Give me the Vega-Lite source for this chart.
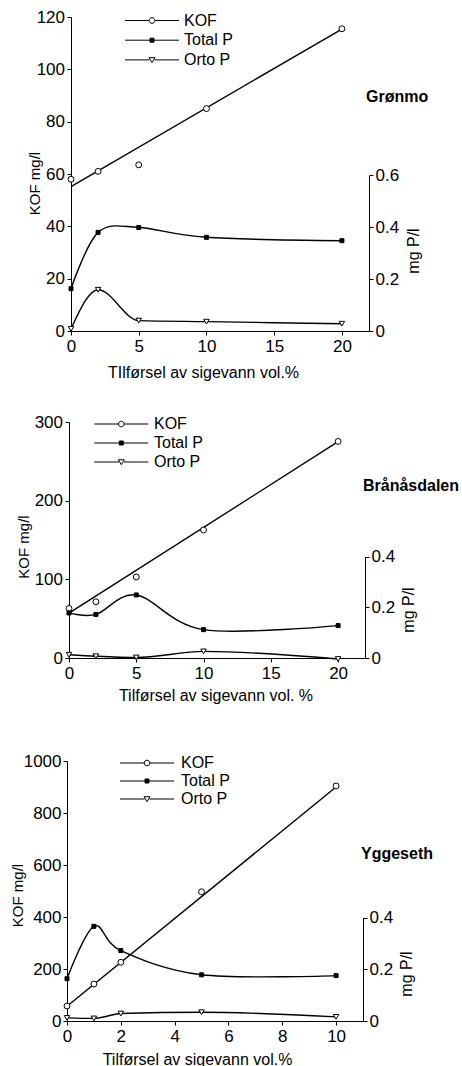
{
  "$schema": "https://vega.github.io/schema/vega-lite/v6.json",
  "padding": {"left": 10, "top": 8, "right": 0, "bottom": 0},
  "bounds": "flush",
  "spacing": 91,
  "config": {
    "font": "Liberation Sans",
    "view": {"stroke": null},
    "axis": {"domainColor": "black", "tickColor": "black", "labelColor": "black", "titleColor": "black", "grid": false, "tickSize": 4, "labelFontSize": 17, "labelFlush": false, "titleFontWeight": "normal", "domainWidth": 1, "tickWidth": 1, "labelFont": "Liberation Sans", "titleFont": "Liberation Sans"},
    "legend": {"labelFontSize": 16, "labelColor": "black", "labelFont": "Liberation Sans", "padding": 0, "symbolSize": 100, "symbolStrokeWidth": 1, "symbolOpacity": 1}
  },
  "resolve": {"scale": {"fill": "independent", "shape": "independent", "stroke": "independent"}, "legend": {"fill": "independent", "shape": "independent", "stroke": "independent"}},
  "datasets": {
    "gronmo": [
      {"x": 0, "serie": "KOF", "verdi": 58}, {"x": 2, "serie": "KOF", "verdi": 61}, {"x": 5, "serie": "KOF", "verdi": 63.5}, {"x": 10, "serie": "KOF", "verdi": 85}, {"x": 20, "serie": "KOF", "verdi": 115.5},
      {"x": 0, "serie": "Total P", "verdi": 0.163}, {"x": 2, "serie": "Total P", "verdi": 0.38}, {"x": 5, "serie": "Total P", "verdi": 0.399}, {"x": 10, "serie": "Total P", "verdi": 0.361}, {"x": 20, "serie": "Total P", "verdi": 0.348},
      {"x": 0, "serie": "Orto P", "verdi": 0.008}, {"x": 2, "serie": "Orto P", "verdi": 0.159}, {"x": 5, "serie": "Orto P", "verdi": 0.04}, {"x": 10, "serie": "Orto P", "verdi": 0.036}, {"x": 20, "serie": "Orto P", "verdi": 0.028}
    ],
    "gronmo_fit": [{"x": 0, "kof": 55.2}, {"x": 20, "kof": 115.4}],
    "branas": [
      {"x": 0, "serie": "KOF", "verdi": 63}, {"x": 2, "serie": "KOF", "verdi": 71.5}, {"x": 5, "serie": "KOF", "verdi": 103}, {"x": 10, "serie": "KOF", "verdi": 162.7}, {"x": 20, "serie": "KOF", "verdi": 275.3},
      {"x": 0, "serie": "Total P", "verdi": 0.178}, {"x": 2, "serie": "Total P", "verdi": 0.172}, {"x": 5, "serie": "Total P", "verdi": 0.249}, {"x": 10, "serie": "Total P", "verdi": 0.112}, {"x": 20, "serie": "Total P", "verdi": 0.128},
      {"x": 0, "serie": "Orto P", "verdi": 0.013}, {"x": 2, "serie": "Orto P", "verdi": 0.007}, {"x": 5, "serie": "Orto P", "verdi": 0.002}, {"x": 10, "serie": "Orto P", "verdi": 0.026}, {"x": 20, "serie": "Orto P", "verdi": -0.004}
    ],
    "branas_fit": [{"x": 0, "kof": 57}, {"x": 20, "kof": 275}],
    "ygg": [
      {"x": 0, "serie": "KOF", "verdi": 57.7}, {"x": 1, "serie": "KOF", "verdi": 142}, {"x": 2, "serie": "KOF", "verdi": 225.8}, {"x": 5, "serie": "KOF", "verdi": 497}, {"x": 10, "serie": "KOF", "verdi": 904},
      {"x": 0, "serie": "Total P", "verdi": 0.164}, {"x": 1, "serie": "Total P", "verdi": 0.367}, {"x": 2, "serie": "Total P", "verdi": 0.273}, {"x": 5, "serie": "Total P", "verdi": 0.179}, {"x": 10, "serie": "Total P", "verdi": 0.176},
      {"x": 0, "serie": "Orto P", "verdi": 0.012}, {"x": 1, "serie": "Orto P", "verdi": 0.01}, {"x": 2, "serie": "Orto P", "verdi": 0.029}, {"x": 5, "serie": "Orto P", "verdi": 0.034}, {"x": 10, "serie": "Orto P", "verdi": 0.016}
    ],
    "ygg_fit": [{"x": 0, "kof": 57}, {"x": 10, "kof": 900}]
  },
  "vconcat": [
    {
      "width": 302, "height": 314,
      "title": {"text": "Grønmo", "anchor": "start", "frame": "group", "orient": "top", "offset": 0, "dx": 299, "dy": 110, "baseline": "alphabetic", "fontSize": 16, "fontWeight": "bold", "color": "black", "font": "Liberation Sans"},
      "layer": [
        {
          "layer": [
            {
              "data": {"name": "gronmo_fit"},
              "mark": {"type": "line", "color": "black", "strokeWidth": 1.4},
              "encoding": {
                "x": {"field": "x", "type": "quantitative", "scale": {"domain": [0, 22], "range": [4, 302], "nice": false}, "axis": {"values": [0, 5, 10, 15, 20], "format": "d", "labelPadding": 3, "title": "TIlførsel av sigevann vol.%", "titleFontSize": 16, "titleX": 136, "titleY": 46.7, "titleBaseline": "alphabetic"}},
                "y": {"field": "kof", "type": "quantitative", "scale": {"domain": [0, 120], "range": [314, 0], "nice": false}, "axis": {"orient": "left", "values": [0, 20, 40, 60, 80, 100, 120], "format": "d", "labelPadding": 2.5, "offset": -4, "title": "KOF mg/l", "titleFontSize": 15, "titleAngle": 270, "titleX": -29, "titleY": 166, "titleBaseline": "bottom", "titleAlign": "center"}}
              }
            },
            {
              "data": {"name": "gronmo"},
              "transform": [{"filter": "datum.serie === 'KOF'"}],
              "mark": {"type": "point", "shape": "circle", "filled": true, "fill": "white", "stroke": "black", "strokeWidth": 1, "opacity": 1, "size": 35},
              "encoding": {
                "x": {"field": "x", "type": "quantitative", "scale": {"domain": [0, 22], "range": [4, 302], "nice": false}},
                "y": {"field": "verdi", "type": "quantitative", "scale": {"domain": [0, 120], "range": [314, 0], "nice": false}}
              }
            },
            {
              "data": {"name": "gronmo"},
              "mark": {"type": "point", "filled": true, "strokeWidth": 1, "opacity": 0},
              "encoding": {
                "x": {"field": "x", "type": "quantitative", "scale": {"domain": [0, 22], "range": [4, 302], "nice": false}},
                "y": {"field": "verdi", "type": "quantitative", "scale": {"domain": [0, 120], "range": [314, 0], "nice": false}},
                "shape": {"field": "serie", "type": "nominal", "scale": {"domain": ["KOF", "Total P", "Orto P"], "range": ["M-5.4,0H-0.56M0.56,0H5.4M-0.56,0A0.56,0.56,0,1,0,0.56,0A0.56,0.56,0,1,0,-0.56,0Z", "M-5.4,0H5.4M-0.4,-0.4H0.4V0.4H-0.4Z", "M-5.4,0H-0.5M0.5,0H5.4M-0.6,-0.45L0.6,-0.45L0,0.55Z"]},
                  "legend": {"title": null, "orient": "none", "legendX": 60, "legendY": -4.5, "symbolOffset": 17, "labelOffset": 24, "rowPadding": 3.7, "symbolOpacity": 1}},
                "fill": {"field": "serie", "type": "nominal", "scale": {"domain": ["KOF", "Total P", "Orto P"], "range": ["white", "black", "white"]},
                  "legend": {"title": null, "orient": "none", "legendX": 60, "legendY": -4.5, "symbolOffset": 17, "labelOffset": 24, "rowPadding": 3.7, "symbolOpacity": 1}},
                "stroke": {"field": "serie", "type": "nominal", "scale": {"domain": ["KOF", "Total P", "Orto P"], "range": ["black", "black", "black"]},
                  "legend": {"title": null, "orient": "none", "legendX": 60, "legendY": -4.5, "symbolOffset": 17, "labelOffset": 24, "rowPadding": 3.7, "symbolOpacity": 1}}
              }
            }
          ]
        },
        {
          "layer": [
            {
              "data": {"name": "gronmo"},
              "transform": [{"filter": "datum.serie === 'Total P'"}],
              "mark": {"type": "line", "color": "black", "strokeWidth": 1.4, "interpolate": "cardinal"},
              "encoding": {
                "x": {"field": "x", "type": "quantitative", "scale": {"domain": [0, 22], "range": [4, 302], "nice": false}},
                "y": {"field": "verdi", "type": "quantitative", "scale": {"domain": [0, 0.6], "range": [314, 158.3], "nice": false}, "axis": {"orient": "right", "values": [0, 0.2, 0.4, 0.6], "format": "~g", "labelPadding": 2, "title": "mg P/l", "titleFontSize": 16, "titleAngle": 270, "titleX": 36, "titleY": 233.5, "titleBaseline": "top", "titleAlign": "center"}}
              }
            },
            {
              "data": {"name": "gronmo"},
              "transform": [{"filter": "datum.serie === 'Orto P'"}],
              "mark": {"type": "line", "color": "black", "strokeWidth": 1.4, "interpolate": "monotone"},
              "encoding": {
                "x": {"field": "x", "type": "quantitative", "scale": {"domain": [0, 22], "range": [4, 302], "nice": false}},
                "y": {"field": "verdi", "type": "quantitative", "scale": {"domain": [0, 0.6], "range": [314, 158.3], "nice": false}}
              }
            },
            {
              "data": {"name": "gronmo"},
              "transform": [{"filter": "datum.serie === 'Total P'"}],
              "mark": {"type": "point", "shape": "square", "filled": true, "fill": "black", "stroke": "black", "strokeWidth": 1, "opacity": 1, "size": 16},
              "encoding": {
                "x": {"field": "x", "type": "quantitative", "scale": {"domain": [0, 22], "range": [4, 302], "nice": false}},
                "y": {"field": "verdi", "type": "quantitative", "scale": {"domain": [0, 0.6], "range": [314, 158.3], "nice": false}}
              }
            },
            {
              "data": {"name": "gronmo"},
              "transform": [{"filter": "datum.serie === 'Orto P'"}],
              "mark": {"type": "point", "shape": "triangle-down", "filled": true, "fill": "white", "stroke": "black", "strokeWidth": 1, "opacity": 1, "size": 30},
              "encoding": {
                "x": {"field": "x", "type": "quantitative", "scale": {"domain": [0, 22], "range": [4, 302], "nice": false}},
                "y": {"field": "verdi", "type": "quantitative", "scale": {"domain": [0, 0.6], "range": [314, 158.3], "nice": false}}
              }
            }
          ]
        }
      ],
      "resolve": {"scale": {"y": "independent"}}
    },
    {
      "width": 298, "height": 236,
      "title": {"text": "Brånåsdalen", "anchor": "start", "frame": "group", "orient": "top", "offset": 0, "dx": 296, "dy": 93.5, "baseline": "alphabetic", "fontSize": 16, "fontWeight": "bold", "color": "black", "font": "Liberation Sans"},
      "layer": [
        {
          "layer": [
            {
              "data": {"name": "branas_fit"},
              "mark": {"type": "line", "color": "black", "strokeWidth": 1.4},
              "encoding": {
                "x": {"field": "x", "type": "quantitative", "scale": {"domain": [0, 22], "range": [2, 298], "nice": false}, "axis": {"values": [0, 5, 10, 15, 20], "format": "d", "labelPadding": 3, "title": "Tilførsel av sigevann vol. %", "titleFontSize": 16, "titleX": 148.5, "titleY": 42, "titleBaseline": "alphabetic"}},
                "y": {"field": "kof", "type": "quantitative", "scale": {"domain": [0, 300], "range": [236, 0], "nice": false}, "axis": {"orient": "left", "values": [0, 100, 200, 300], "format": "d", "labelPadding": 2.5, "offset": -2, "title": "KOF mg/l", "titleFontSize": 15, "titleAngle": 270, "titleX": -38, "titleY": 124.5, "titleBaseline": "bottom", "titleAlign": "center"}}
              }
            },
            {
              "data": {"name": "branas"},
              "transform": [{"filter": "datum.serie === 'KOF'"}],
              "mark": {"type": "point", "shape": "circle", "filled": true, "fill": "white", "stroke": "black", "strokeWidth": 1, "opacity": 1, "size": 35},
              "encoding": {
                "x": {"field": "x", "type": "quantitative", "scale": {"domain": [0, 22], "range": [2, 298], "nice": false}},
                "y": {"field": "verdi", "type": "quantitative", "scale": {"domain": [0, 300], "range": [236, 0], "nice": false}}
              }
            },
            {
              "data": {"name": "branas"},
              "mark": {"type": "point", "filled": true, "strokeWidth": 1, "opacity": 0},
              "encoding": {
                "x": {"field": "x", "type": "quantitative", "scale": {"domain": [0, 22], "range": [2, 298], "nice": false}},
                "y": {"field": "verdi", "type": "quantitative", "scale": {"domain": [0, 300], "range": [236, 0], "nice": false}},
                "shape": {"field": "serie", "type": "nominal", "scale": {"domain": ["KOF", "Total P", "Orto P"], "range": ["M-5.4,0H-0.56M0.56,0H5.4M-0.56,0A0.56,0.56,0,1,0,0.56,0A0.56,0.56,0,1,0,-0.56,0Z", "M-5.4,0H5.4M-0.4,-0.4H0.4V0.4H-0.4Z", "M-5.4,0H-0.5M0.5,0H5.4M-0.6,-0.45L0.6,-0.45L0,0.55Z"]},
                  "legend": {"title": null, "orient": "none", "legendX": 29.3, "legendY": -6, "symbolOffset": 17, "labelOffset": 24.7, "rowPadding": 3, "symbolOpacity": 1}},
                "fill": {"field": "serie", "type": "nominal", "scale": {"domain": ["KOF", "Total P", "Orto P"], "range": ["white", "black", "white"]},
                  "legend": {"title": null, "orient": "none", "legendX": 29.3, "legendY": -6, "symbolOffset": 17, "labelOffset": 24.7, "rowPadding": 3, "symbolOpacity": 1}},
                "stroke": {"field": "serie", "type": "nominal", "scale": {"domain": ["KOF", "Total P", "Orto P"], "range": ["black", "black", "black"]},
                  "legend": {"title": null, "orient": "none", "legendX": 29.3, "legendY": -6, "symbolOffset": 17, "labelOffset": 24.7, "rowPadding": 3, "symbolOpacity": 1}}
              }
            }
          ]
        },
        {
          "layer": [
            {
              "data": {"name": "branas"},
              "transform": [{"filter": "datum.serie === 'Total P'"}],
              "mark": {"type": "line", "color": "black", "strokeWidth": 1.4, "interpolate": "cardinal"},
              "encoding": {
                "x": {"field": "x", "type": "quantitative", "scale": {"domain": [0, 22], "range": [2, 298], "nice": false}},
                "y": {"field": "verdi", "type": "quantitative", "scale": {"domain": [0, 0.4], "range": [236, 134.7], "nice": false}, "axis": {"orient": "right", "values": [0, 0.2, 0.4], "format": "~g", "labelPadding": 2, "title": "mg P/l", "titleFontSize": 16, "titleAngle": 270, "titleX": 35.5, "titleY": 187.5, "titleBaseline": "top", "titleAlign": "center"}}
              }
            },
            {
              "data": {"name": "branas"},
              "transform": [{"filter": "datum.serie === 'Orto P'"}],
              "mark": {"type": "line", "color": "black", "strokeWidth": 1.4, "interpolate": "monotone"},
              "encoding": {
                "x": {"field": "x", "type": "quantitative", "scale": {"domain": [0, 22], "range": [2, 298], "nice": false}},
                "y": {"field": "verdi", "type": "quantitative", "scale": {"domain": [0, 0.4], "range": [236, 134.7], "nice": false}}
              }
            },
            {
              "data": {"name": "branas"},
              "transform": [{"filter": "datum.serie === 'Total P'"}],
              "mark": {"type": "point", "shape": "square", "filled": true, "fill": "black", "stroke": "black", "strokeWidth": 1, "opacity": 1, "size": 16},
              "encoding": {
                "x": {"field": "x", "type": "quantitative", "scale": {"domain": [0, 22], "range": [2, 298], "nice": false}},
                "y": {"field": "verdi", "type": "quantitative", "scale": {"domain": [0, 0.4], "range": [236, 134.7], "nice": false}}
              }
            },
            {
              "data": {"name": "branas"},
              "transform": [{"filter": "datum.serie === 'Orto P'"}],
              "mark": {"type": "point", "shape": "triangle-down", "filled": true, "fill": "white", "stroke": "black", "strokeWidth": 1, "opacity": 1, "size": 30},
              "encoding": {
                "x": {"field": "x", "type": "quantitative", "scale": {"domain": [0, 22], "range": [2, 298], "nice": false}},
                "y": {"field": "verdi", "type": "quantitative", "scale": {"domain": [0, 0.4], "range": [236, 134.7], "nice": false}}
              }
            }
          ]
        }
      ],
      "resolve": {"scale": {"y": "independent"}}
    },
    {
      "width": 296, "height": 272,
      "title": {"text": "Yggeseth", "anchor": "start", "frame": "group", "orient": "top", "offset": 0, "dx": 294, "dy": 126, "baseline": "alphabetic", "fontSize": 16, "fontWeight": "bold", "color": "black", "font": "Liberation Sans"},
      "layer": [
        {
          "layer": [
            {
              "data": {"name": "ygg_fit"},
              "mark": {"type": "line", "color": "black", "strokeWidth": 1.4},
              "encoding": {
                "x": {"field": "x", "type": "quantitative", "scale": {"domain": [0, 11], "range": [0, 296], "nice": false}, "axis": {"values": [0, 2, 4, 6, 8, 10], "format": "d", "labelPadding": 3, "title": "Tilførsel av sigevann vol.%", "titleFontSize": 16, "titleX": 130, "titleY": 43, "titleBaseline": "alphabetic"}},
                "y": {"field": "kof", "type": "quantitative", "scale": {"domain": [0, 1000], "range": [272, 12], "nice": false}, "axis": {"orient": "left", "values": [0, 200, 400, 600, 800, 1000], "format": "d", "labelPadding": 2, "title": "KOF mg/l", "titleFontSize": 15, "titleAngle": 270, "titleX": -42, "titleY": 146, "titleBaseline": "bottom", "titleAlign": "center"}}
              }
            },
            {
              "data": {"name": "ygg"},
              "transform": [{"filter": "datum.serie === 'KOF'"}],
              "mark": {"type": "point", "shape": "circle", "filled": true, "fill": "white", "stroke": "black", "strokeWidth": 1, "opacity": 1, "size": 35},
              "encoding": {
                "x": {"field": "x", "type": "quantitative", "scale": {"domain": [0, 11], "range": [0, 296], "nice": false}},
                "y": {"field": "verdi", "type": "quantitative", "scale": {"domain": [0, 1000], "range": [272, 12], "nice": false}}
              }
            },
            {
              "data": {"name": "ygg"},
              "mark": {"type": "point", "filled": true, "strokeWidth": 1, "opacity": 0},
              "encoding": {
                "x": {"field": "x", "type": "quantitative", "scale": {"domain": [0, 11], "range": [0, 296], "nice": false}},
                "y": {"field": "verdi", "type": "quantitative", "scale": {"domain": [0, 1000], "range": [272, 12], "nice": false}},
                "shape": {"field": "serie", "type": "nominal", "scale": {"domain": ["KOF", "Total P", "Orto P"], "range": ["M-5.4,0H-0.56M0.56,0H5.4M-0.56,0A0.56,0.56,0,1,0,0.56,0A0.56,0.56,0,1,0,-0.56,0Z", "M-5.4,0H5.4M-0.4,-0.4H0.4V0.4H-0.4Z", "M-5.4,0H-0.5M0.5,0H5.4M-0.6,-0.45L0.6,-0.45L0,0.55Z"]},
                  "legend": {"title": null, "orient": "none", "legendX": 55.3, "legendY": 6, "symbolOffset": 16.7, "labelOffset": 26, "rowPadding": 2, "symbolOpacity": 1}},
                "fill": {"field": "serie", "type": "nominal", "scale": {"domain": ["KOF", "Total P", "Orto P"], "range": ["white", "black", "white"]},
                  "legend": {"title": null, "orient": "none", "legendX": 55.3, "legendY": 6, "symbolOffset": 16.7, "labelOffset": 26, "rowPadding": 2, "symbolOpacity": 1}},
                "stroke": {"field": "serie", "type": "nominal", "scale": {"domain": ["KOF", "Total P", "Orto P"], "range": ["black", "black", "black"]},
                  "legend": {"title": null, "orient": "none", "legendX": 55.3, "legendY": 6, "symbolOffset": 16.7, "labelOffset": 26, "rowPadding": 2, "symbolOpacity": 1}}
              }
            }
          ]
        },
        {
          "layer": [
            {
              "data": {"name": "ygg"},
              "transform": [{"filter": "datum.serie === 'Total P'"}],
              "mark": {"type": "line", "color": "black", "strokeWidth": 1.4, "interpolate": "cardinal"},
              "encoding": {
                "x": {"field": "x", "type": "quantitative", "scale": {"domain": [0, 11], "range": [0, 296], "nice": false}},
                "y": {"field": "verdi", "type": "quantitative", "scale": {"domain": [0, 0.4], "range": [272, 168.8], "nice": false}, "axis": {"orient": "right", "values": [0, 0.2, 0.4], "format": "~g", "labelPadding": 2, "title": "mg P/l", "titleFontSize": 16, "titleAngle": 270, "titleX": 35, "titleY": 224.5, "titleBaseline": "top", "titleAlign": "center"}}
              }
            },
            {
              "data": {"name": "ygg"},
              "transform": [{"filter": "datum.serie === 'Orto P'"}],
              "mark": {"type": "line", "color": "black", "strokeWidth": 1.4, "interpolate": "monotone"},
              "encoding": {
                "x": {"field": "x", "type": "quantitative", "scale": {"domain": [0, 11], "range": [0, 296], "nice": false}},
                "y": {"field": "verdi", "type": "quantitative", "scale": {"domain": [0, 0.4], "range": [272, 168.8], "nice": false}}
              }
            },
            {
              "data": {"name": "ygg"},
              "transform": [{"filter": "datum.serie === 'Total P'"}],
              "mark": {"type": "point", "shape": "square", "filled": true, "fill": "black", "stroke": "black", "strokeWidth": 1, "opacity": 1, "size": 16},
              "encoding": {
                "x": {"field": "x", "type": "quantitative", "scale": {"domain": [0, 11], "range": [0, 296], "nice": false}},
                "y": {"field": "verdi", "type": "quantitative", "scale": {"domain": [0, 0.4], "range": [272, 168.8], "nice": false}}
              }
            },
            {
              "data": {"name": "ygg"},
              "transform": [{"filter": "datum.serie === 'Orto P'"}],
              "mark": {"type": "point", "shape": "triangle-down", "filled": true, "fill": "white", "stroke": "black", "strokeWidth": 1, "opacity": 1, "size": 30},
              "encoding": {
                "x": {"field": "x", "type": "quantitative", "scale": {"domain": [0, 11], "range": [0, 296], "nice": false}},
                "y": {"field": "verdi", "type": "quantitative", "scale": {"domain": [0, 0.4], "range": [272, 168.8], "nice": false}}
              }
            }
          ]
        }
      ],
      "resolve": {"scale": {"y": "independent"}}
    }
  ]
}
